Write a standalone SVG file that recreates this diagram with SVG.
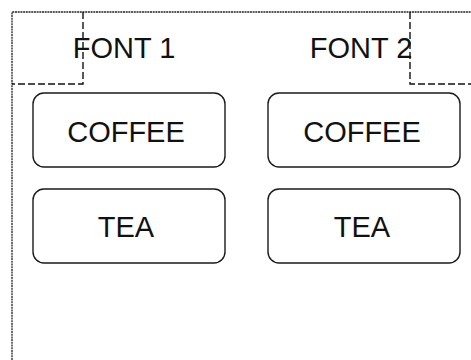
<svg xmlns="http://www.w3.org/2000/svg" width="471" height="360" viewBox="0 0 471 360">
<style>
.frame{fill:none;stroke:#222;stroke-width:1.3;stroke-dasharray:2,0.7}
.dash{fill:none;stroke:#111;stroke-width:1.4;stroke-dasharray:7,3}
.box{fill:#fff;stroke:#1a1a1a;stroke-width:1.4}
.lbl{font-family:"Liberation Sans",Arial,sans-serif;font-size:29px;fill:#111;text-anchor:middle}
</style>
<rect width="471" height="360" fill="#fff"/>
<g id="frame">
<path class="frame" d="M12,360 V12 H471"/>
</g>
<g id="font1">
<path class="dash" d="M83,12 V84 H12"/>
<text class="lbl" x="124" y="58">FONT 1</text>
</g>
<g id="font2">
<path class="dash" d="M410,12 V84 H471"/>
<text class="lbl" x="361" y="58">FONT 2</text>
</g>
<g id="coffee1">
<rect class="box" x="33" y="93" width="192" height="74" rx="11"/>
<text class="lbl" x="126" y="142">COFFEE</text>
</g>
<g id="tea1">
<rect class="box" x="33" y="189" width="192" height="74" rx="11"/>
<text class="lbl" x="126" y="237">TEA</text>
</g>
<g id="coffee2">
<rect class="box" x="268" y="93" width="192" height="74" rx="11"/>
<text class="lbl" x="362" y="142">COFFEE</text>
</g>
<g id="tea2">
<rect class="box" x="268" y="189" width="192" height="74" rx="11"/>
<text class="lbl" x="362" y="237">TEA</text>
</g>
<g id="connectors"></g>
</svg>
